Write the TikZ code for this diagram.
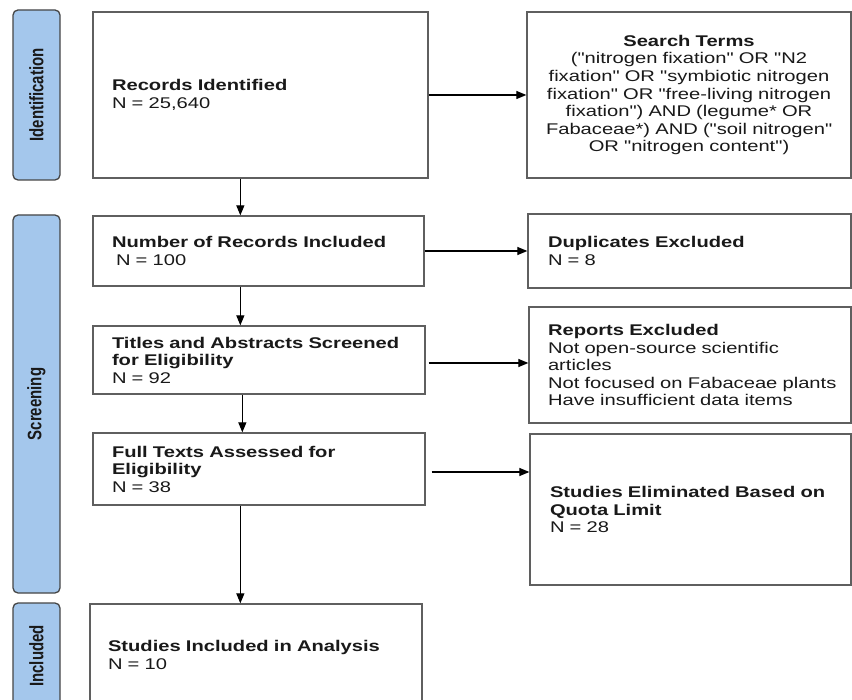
\documentclass[tikz,border=0pt]{standalone}
\usepackage{fontspec}
\setmainfont{Liberation Sans}[FakeStretch=1.3]
\newfontfamily\plainfont{Liberation Sans}[FakeStretch=1.3]
\newfontfamily\sidefont{Liberation Sans}
\usetikzlibrary{arrows.meta}
\definecolor{sideblue}{RGB}{164,199,236}
\definecolor{sideedge}{RGB}{70,70,70}
\definecolor{boxedge}{RGB}{95,95,95}
\definecolor{txt}{RGB}{25,25,25}
\newcommand\tl[1]{\mbox{#1}}
\begin{document}
\begin{tikzpicture}[x=1pt,y=-1pt,
  box/.style={draw=boxedge, line width=1.3pt, fill=white, inner xsep=19pt, inner ysep=0pt,
    align=left, text=txt, font=\fontsize{15.5}{17.5}\selectfont},
  sidebox/.style={draw=sideedge, line width=1.3pt, fill=sideblue, rounded corners=5pt,
    minimum width=47pt, inner sep=0pt, font=\sidefont\bfseries\fontsize{15}{17}\selectfont, text=txt},
  arr/.style={draw=black, line width=1.2pt, -{Triangle[length=10pt,width=8pt]}}]
\fill[white] (0,0) rectangle (852,700);
\useasboundingbox (0,0) rectangle (852,700);

% phase labels
\node[sidebox, minimum height=170pt] (sid) at (36.5,95) {\rotatebox{90}{\scalebox{1}[1.3]{Identification}}};
\node[sidebox, minimum height=378pt] (ssc) at (36.5,404) {\rotatebox{90}{\scalebox{1}[1.3]{Screening}}};
\node[sidebox, minimum height=106pt] (sin) at (36.5,656) {\rotatebox{90}{\scalebox{1}[1.3]{Included}}};

% boxes
\node[box, minimum height=166pt, text width=297pt] (rec) at (260.5,95)
  {\tl{\textbf{Records Identified}}\\\tl{N = 25,640}};
\node[box, align=center, minimum height=166pt, text width=286pt,
      font=\plainfont\fontsize{15.5}{17.6}\selectfont] (search) at (689,95)
  {\tl{\textbf{Search Terms}}\\
   \tl{("nitrogen fixation" OR "N2}\\
   \tl{fixation" OR "symbiotic nitrogen}\\
   \tl{fixation" OR "free-living nitrogen}\\
   \tl{fixation") AND (legume* OR}\\
   \tl{Fabaceae*) AND ("soil nitrogen"}\\
   \tl{OR "nitrogen content")}};
\node[box, minimum height=70pt, text width=293pt] (num) at (258.5,251)
  {\tl{\textbf{Number of Records Included}}\\\tl{\hspace*{4pt}N = 100}};
\node[box, inner xsep=20pt, minimum height=74pt, text width=283pt] (dup) at (689.5,251)
  {\tl{\textbf{Duplicates Excluded}}\\\tl{N = 8}};
\node[box, minimum height=68pt, text width=294pt] (tit) at (259,360)
  {\tl{\textbf{Titles and Abstracts Screened}}\\\tl{\textbf{for Eligibility}}\\\tl{N = 92}};
\node[box, minimum height=116pt, text width=284pt] (rep) at (690,365)
  {\tl{\textbf{Reports Excluded}}\\\tl{Not open-source scientific}\\\tl{articles}\\
   \tl{Not focused on Fabaceae plants}\\\tl{Have insufficient data items}};
\node[box, minimum height=72pt, text width=294pt] (full) at (259,469)
  {\tl{\textbf{Full Texts Assessed for}}\\\tl{\textbf{Eligibility}}\\\tl{N = 38}};
\node[box, inner xsep=20pt, minimum height=151pt, text width=281pt] (elim) at (690.5,509.5)
  {\tl{\textbf{Studies Eliminated Based on}}\\\tl{\textbf{Quota Limit}}\\\tl{N = 28}};
\node[box, inner xsep=18pt, minimum height=102pt, text width=296pt] (inc) at (256,655)
  {\tl{\textbf{Studies Included in Analysis}}\\\tl{N = 10}};

% connectors
\draw[arr] (rec.east) -- (search.west);
\draw[arr] ([xshift=148pt]rec.south west) -- ([xshift=148pt]num.north west);
\draw[arr] (num.east) -- (dup.west);
\draw[arr] ([xshift=148pt]num.south west) -- ([xshift=148pt]tit.north west);
\draw[arr] ([xshift=3pt,yshift=-3pt]tit.east) -- ([yshift=-3pt]tit.east -| rep.west);
\draw[arr] ([xshift=150pt]tit.south west) -- ([xshift=150pt]full.north west);
\draw[arr] ([xshift=6pt,yshift=-3pt]full.east) -- ([yshift=-3pt]full.east -| elim.west);
\draw[arr] ([xshift=148pt]full.south west) -- ([xshift=151pt]inc.north west);
\end{tikzpicture}
\end{document}
